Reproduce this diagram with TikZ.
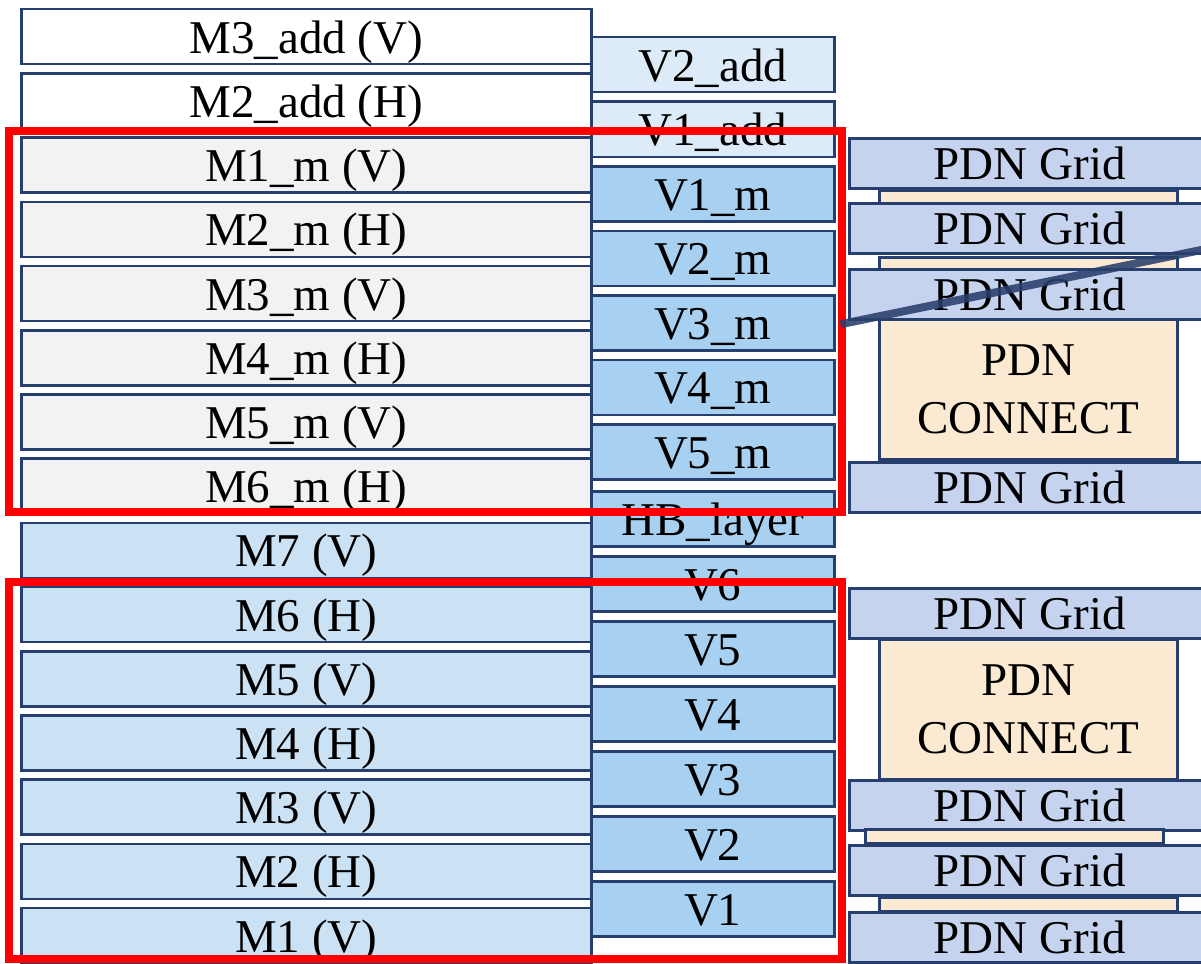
\documentclass[tikz,border=0pt]{standalone}
\usepackage{fontspec}
\setmainfont{Liberation Serif}
\newcommand\usc{\char95\relax}
\definecolor{navy}{HTML}{263F6E}
\definecolor{graym}{HTML}{F2F2F2}
\definecolor{bluem}{HTML}{CBE1F4}
\definecolor{viaadd}{HTML}{DDEBF8}
\definecolor{viac}{HTML}{A8D0F0}
\definecolor{gridc}{HTML}{C6D3EF}
\definecolor{connc}{HTML}{FCE9D1}
\definecolor{hired}{HTML}{FF0000}
\definecolor{linkc}{HTML}{2A3F6C}
\begin{document}
\begin{tikzpicture}[x=1pt,y=-1pt,
  basebox/.style={draw=navy, line width=2.5pt, inner sep=0pt, anchor=north west,
    font=\fontsize{47}{58}\selectfont, text=black},
  metal/.style={basebox, minimum width=570pt, text height=44pt, text depth=11pt},
  viabox/.style={basebox, minimum width=243pt, text height=44pt, text depth=11pt},
  gridbox/.style={basebox, fill=gridc, minimum width=361pt, text height=41pt, text depth=9pt},
  barbox/.style={basebox, fill=connc, minimum width=298pt, minimum height=14pt},
  connbox/.style={basebox, fill=connc, minimum width=298pt, minimum height=140pt, align=center},
  hl/.style={draw=hired, line width=8pt},
  link/.style={draw=linkc, line width=8pt, opacity=0.88}]
\clip (0,0) rectangle (1201,963);
\fill[white] (0,0) rectangle (1201,963);
% left column
\node[metal, fill=white] (m3add) at (20,8) {M3\usc add (V)};
\node[metal, fill=white] (m2add) at (20,72.2) {M2\usc add (H)};
\node[metal, fill=graym] (m1m) at (20,136.4) {M1\usc m (V)};
\node[metal, fill=graym] (m2m) at (20,200.6) {M2\usc m (H)};
\node[metal, fill=graym] (m3m) at (20,264.8) {M3\usc m (V)};
\node[metal, fill=graym] (m4m) at (20,329) {M4\usc m (H)};
\node[metal, fill=graym] (m5m) at (20,393.2) {M5\usc m (V)};
\node[metal, fill=graym] (m6m) at (20,457.4) {M6\usc m (H)};
\node[metal, fill=bluem] (m7) at (20,521.6) {M7 (V)};
\node[metal, fill=bluem] (m6) at (20,585.8) {M6 (H)};
\node[metal, fill=bluem] (m5) at (20,650) {M5 (V)};
\node[metal, fill=bluem] (m4) at (20,714.2) {M4 (H)};
\node[metal, fill=bluem] (m3) at (20,778.4) {M3 (V)};
\node[metal, fill=bluem] (m2) at (20,842.6) {M2 (H)};
\node[metal, fill=bluem] (m1) at (20,906.8) {M1 (V)};
% middle column
\node[viabox, fill=viaadd] (v2add) at (590,36) {V2\usc add};
\node[viabox, fill=viaadd] (v1add) at (590,100.5) {V1\usc add};
\node[viabox, fill=viac] (v1m) at (590,165) {V1\usc m};
\node[viabox, fill=viac] (v2m) at (590,229.5) {V2\usc m};
\node[viabox, fill=viac] (v3m) at (590,294) {V3\usc m};
\node[viabox, fill=viac] (v4m) at (590,358.5) {V4\usc m};
\node[viabox, fill=viac] (v5m) at (590,423) {V5\usc m};
\node[viabox, fill=viac] (hb) at (590,490) {HB\usc layer};
\node[viabox, fill=viac] (v6) at (590,555) {V6};
\node[viabox, fill=viac] (v5) at (590,620) {V5};
\node[viabox, fill=viac] (v4) at (590,685) {V4};
\node[viabox, fill=viac] (v3) at (590,750) {V3};
\node[viabox, fill=viac] (v2) at (590,815) {V2};
\node[viabox, fill=viac] (v1) at (590,880) {V1};
% right column, upper
\node[gridbox] (g1) at (848,137) {PDN Grid};
\node[barbox] (bar1) at (878,189) {};
\node[gridbox] (g2) at (848,202) {PDN Grid};
\node[barbox] (bar2) at (878,256) {};
\node[gridbox] (g3) at (848,268) {PDN Grid};
\node[connbox] (c1) at (878,318) {PDN\\CONNECT};
\node[gridbox] (g4) at (848,461) {PDN Grid};
% right column, lower
\node[gridbox] (g5) at (848,587) {PDN Grid};
\node[connbox] (c2) at (878,638) {PDN\\CONNECT};
\node[gridbox] (g6) at (848,779) {PDN Grid};
\node[barbox] (bar3) at (864,828) {};
\node[gridbox] (g7) at (848,844) {PDN Grid};
\node[barbox] (bar4) at (878,896) {};
\node[gridbox] (g8) at (848,911) {PDN Grid};
% highlight frames
\draw[hl] (9,131) rectangle (842,512);
\draw[hl] (9,582) rectangle (842,959);
% link line
\coordinate (linkend) at (1240,242);
\draw[link] ([xshift=5pt,yshift=-1.5pt]v3m.east) -- (linkend);
\end{tikzpicture}
\end{document}
